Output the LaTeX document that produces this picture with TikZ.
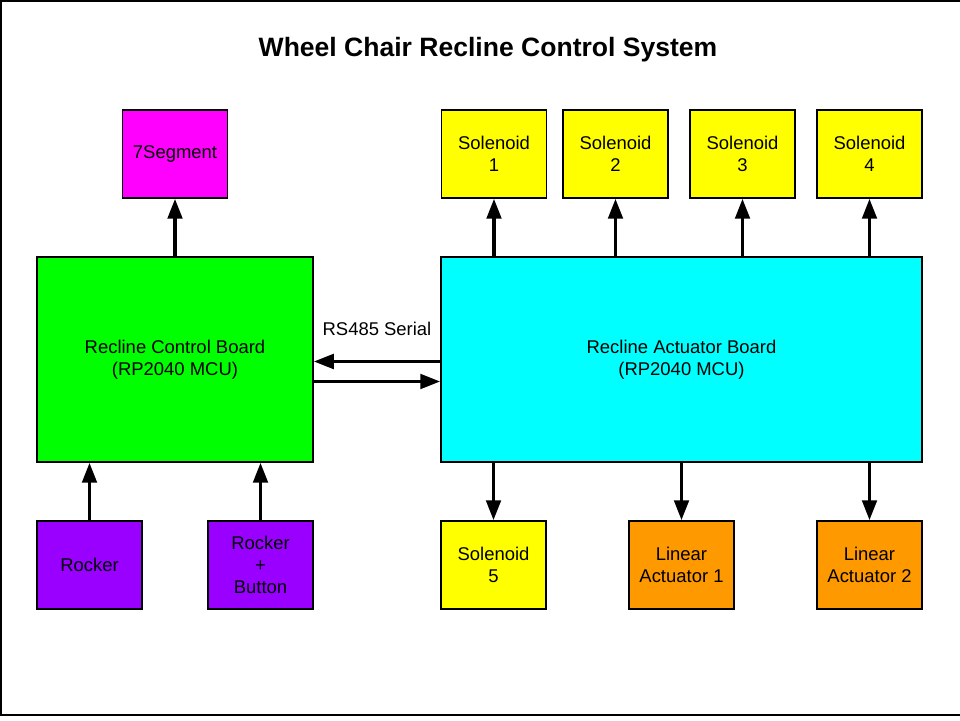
\documentclass[tikz,border=0pt]{standalone}
\usepackage{fontspec}
\setmainfont{Liberation Sans}
\usetikzlibrary{positioning,arrows.meta,calc}
\definecolor{ink}{HTML}{000000}
\definecolor{cdisp}{HTML}{FF00FF}
\definecolor{csol}{HTML}{FFFF00}
\definecolor{cctl}{HTML}{00FF00}
\definecolor{cact}{HTML}{00FFFF}
\definecolor{cin}{HTML}{9900FF}
\definecolor{clin}{HTML}{FF9900}
\tikzset{
  box/.style={draw=ink, line width=0.85pt, align=center, inner sep=2pt,
              font=\fontsize{10.5}{12.5}\selectfont, minimum width=2.1cm, minimum height=1.76cm},
  brd/.style={box, minimum height=4.1cm},
  sig/.style={-{Triangle[length=4mm,width=2.9mm]}, line width=2pt, draw=ink},
  ttl/.style={font=\fontsize{15.1}{18}\selectfont\bfseries},
  lbl/.style={font=\fontsize{10.5}{12.5}\selectfont, inner sep=1pt},
  frame/.style={draw=ink, line width=1.1pt},
}

\begin{document}
\begin{tikzpicture}
\useasboundingbox (0,0) rectangle (19.2,14.4);
\draw[frame] (0.02,0.1) rectangle (19.5,14.38);
\node[ttl] (title) at (9.76,13.4) {Wheel Chair Recline Control System};
% boards
\node[brd, fill=cctl, minimum width=5.52cm] (ctl) at (3.5,7.21) {Recline Control Board\\ (RP2040 MCU)};
\node[brd, fill=cact, minimum width=9.62cm] (act) at (13.63,7.21) {Recline Actuator Board\\ (RP2040 MCU)};
% top row
\node[box, fill=cdisp] (seg)  at (3.5,11.32)   {7Segment};
\node[box, fill=csol]  (sol1) at (9.88,11.32)  {Solenoid\\ 1};
\node[box, fill=csol]  (sol2) at (12.31,11.32) {Solenoid\\ 2};
\node[box, fill=csol]  (sol3) at (14.85,11.32) {Solenoid\\ 3};
\node[box, fill=csol]  (sol4) at (17.39,11.32) {Solenoid\\ 4};
% bottom row
\node[box, fill=cin]  (rock) at (1.79,3.1)  {Rocker};
\node[box, fill=cin]  (rbtn) at (5.21,3.1)  {Rocker\\ +\\ Button};
\node[box, fill=csol] (sol5) at (9.87,3.1)  {Solenoid\\ 5};
\node[box, fill=clin] (la1)  at (13.63,3.1) {Linear\\ Actuator 1};
\node[box, fill=clin] (la2)  at (17.39,3.1) {Linear\\ Actuator 2};
% serial link
\node[lbl] (rs) at (7.54,7.82) {RS485 Serial};
\draw[sig] ([yshift=-0.4mm]act.west) -- ([yshift=-0.4mm]ctl.east);
\draw[sig] ([yshift=-4.4mm]ctl.east) -- ([yshift=-4.4mm]act.west);
% outputs / inputs
\draw[sig] (ctl.north) -- (seg.south);
\foreach \s in {sol1,sol2,sol3,sol4}
  \draw[sig] (\s.south |- act.north) -- (\s.south);
\foreach \s in {sol5,la1,la2}
  \draw[sig] (act.south -| \s.north) -- (\s.north);
\draw[sig] (rock.north) -- (rock.north |- ctl.south);
\draw[sig] (rbtn.north) -- (rbtn.north |- ctl.south);
\end{tikzpicture}
\end{document}
